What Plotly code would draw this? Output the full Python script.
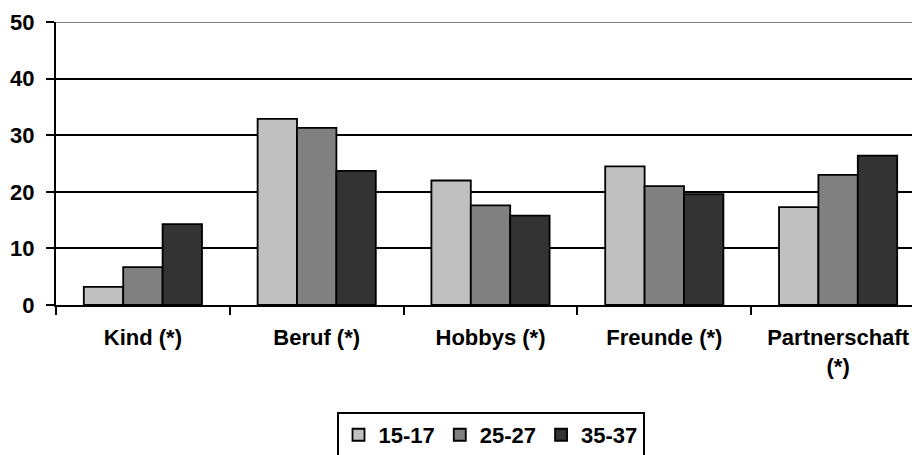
import plotly.graph_objects as go

categories = ["Kind (*)", "Beruf (*)", "Hobbys (*)", "Freunde (*)", "Partnerschaft<br>(*)"]
series_names = ["15-17", "25-27", "35-37"]
values_15_17 = [3.2, 32.9, 22.0, 24.5, 17.3]
values_25_27 = [6.7, 31.3, 17.6, 21.0, 23.0]
values_35_37 = [14.3, 23.7, 15.8, 19.6, 26.4]
series_values = [values_15_17, values_25_27, values_35_37]
colors = ["#C0C0C0", "#808080", "#333333"]
y_ticks = [0, 10, 20, 30, 40, 50]

FONT = "Arial, Liberation Sans, sans-serif"
BOLD = dict(family=FONT, size=22, color="black", weight="bold")

fig = go.Figure()
for name, vals, col in zip(series_names, series_values, colors):
    fig.add_trace(go.Bar(
        x=categories, y=vals, name=name,
        marker=dict(color=col, line=dict(color="black", width=1.8)),
    ))

fig.update_layout(
    width=920, height=455,
    margin=dict(l=48, r=3, t=14, b=158),
    paper_bgcolor="white", plot_bgcolor="white",
    barmode="group", bargap=0.32, bargroupgap=0,
    font=dict(family=FONT, size=22, color="black"),
    showlegend=True,
    legend=dict(
        orientation="h", x=0.5, xanchor="center", y=-0.378, yanchor="top",
        bordercolor="black", borderwidth=2,
        font=BOLD, tracegroupgap=0,
    ),
    xaxis=dict(
        type="category", automargin=False,
        showline=True, linecolor="black", linewidth=2,
        ticks="outside", tickson="boundaries", ticklen=8, tickwidth=2, tickcolor="black",
        tickfont=BOLD, ticklabelstandoff=12,
        showgrid=False,
    ),
    yaxis=dict(
        range=[0, 50], tickvals=y_ticks, automargin=False,
        showline=True, linecolor="black", linewidth=2,
        ticks="outside", ticklen=8, tickwidth=2, tickcolor="black",
        tickfont=BOLD, ticklabelstandoff=7,
        showgrid=True, gridcolor="black", gridwidth=2,
        zeroline=False,
    ),
    shapes=[dict(type="line", xref="paper", yref="y", x0=0, x1=1, y0=50, y1=50,
                 line=dict(color="#808080", width=2), layer="above")],
)

fig.write_html("out.html")
